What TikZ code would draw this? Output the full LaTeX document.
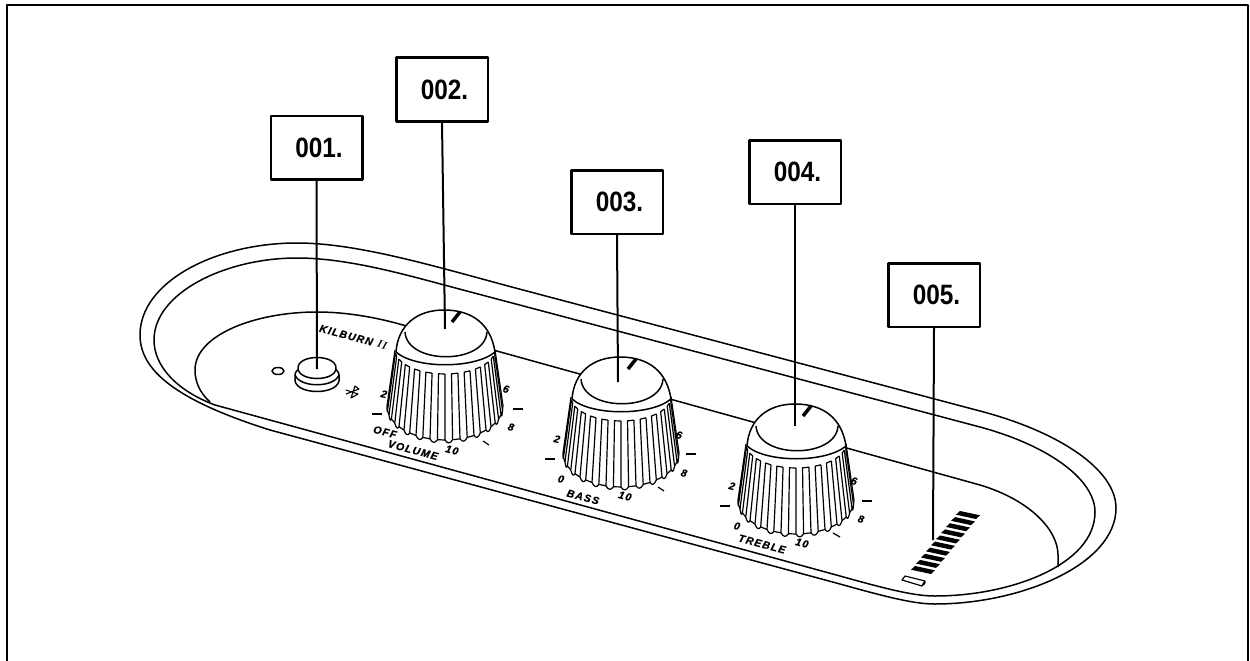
\documentclass[tikz,border=0pt]{standalone}
\usepackage{fontspec}
\usetikzlibrary{calc}
\newfontfamily\tagfont[FakeStretch=0.87]{Liberation Sans}
\newfontfamily\dialfont[LetterSpace=12,FakeBold=1]{Liberation Sans}

\begin{document}
\begin{tikzpicture}[x=1pt,y=-1pt,line join=round,
    tag/.style={draw,line width=2.5pt,fill=white,minimum width=91.5pt,minimum height=63.5pt,inner sep=0pt,font=\tagfont\bfseries\fontsize{28}{28}\selectfont,execute at begin node=\hspace*{5pt}},
    leader/.style={line width=2pt},
    body/.style={line width=1.5pt},
    rib/.style={line width=1.2pt},
    dial/.style={rotate=-15,inner sep=0pt,font=\dialfont\bfseries\itshape\fontsize{10.5}{10.5}\selectfont}]
    \useasboundingbox (0,0) rectangle (1250,661);
    \draw[line width=2pt] (6.5,661) -- (6.5,5) -- (1248,5) -- (1248,661);

    % tray
    \draw[body] (140,335) .. controls (140,282) and (215,243) .. (297,243)
      .. controls (360,243) and (440,268) .. (523,290) -- (980,411)
      .. controls (1060,432) and (1116,470) .. (1116,508)
      .. controls (1116,565) and (1020,604) .. (935,604)
      .. controls (915,604) and (890,598) .. (840,584) -- (270,430)
      .. controls (175,400) and (140,370) .. (140,335) -- cycle;
    \draw[body] (154,340) .. controls (154,293) and (225,258) .. (297,258)
      .. controls (350,258) and (410,276) .. (463,290) -- (980,427)
      .. controls (1050,446) and (1095,480) .. (1095,512)
      .. controls (1095,565) and (1010,596) .. (935,596)
      .. controls (915,596) and (890,590) .. (840,576) -- (215,405)
      .. controls (175,390) and (154,365) .. (154,340) -- cycle;
    \draw[body] (210,402) .. controls (200,393) and (195,382) .. (195,370)
      .. controls (195,335) and (255,312) .. (317,312)
      .. controls (345,312) and (375,317) .. (403,325) -- (980,485)
      .. controls (1030,500) and (1058,530) .. (1058,555) -- (1058,567);

    % button
    \draw[body] (278,371) ellipse (6 and 3.5);
    \draw[body,fill=white] (295,375) -- (295,381) .. controls (298,395) and (336,395) .. (339,381) -- (339,375)
      .. controls (339,362) and (295,362) .. (295,375) -- cycle;
    \draw[body] (295,375) .. controls (300,388) and (334,388) .. (339,375);
    \draw[body,fill=white] (298,368) .. controls (298,354) and (336,354) .. (336,368)
      .. controls (336,382) and (298,382) .. (298,368) -- cycle;
    \draw[line width=1.1pt] (346,390) -- (358,394) -- (351,398) -- (355,386) -- (359,389) -- (346,394);
    \coordinate (p1) at (317,369);

    % knobs
    \foreach \dx/\dy in {0/0,176/47,351/94} {
      \begin{scope}[shift={(445+\dx,350+\dy)}]
        \fill[white] plot[domain=-90:90,samples=31] ({58*sin(\x)},{56+34*cos(\x)}) -- (50,0) -- (-50,0) -- cycle;
        \foreach \t in {-90,-75,...,75} {
          \draw[rib] ({50*sin(\t)},{24*cos(\t)}) -- ({58*sin(\t)},{56+34*cos(\t)})
            .. controls ({58*sin(\t+2.5)},{60+34*cos(\t+2.5)}) and ({58*sin(\t+5)},{60+34*cos(\t+5)}) .. ({58*sin(\t+7.5)},{56+34*cos(\t+7.5)})
            -- ({50*sin(\t+7.5)},{24*cos(\t+7.5)}) -- ({50*sin(\t+15)},{24*cos(\t+15)});
          \draw[rib] ({58*sin(\t+7.5)},{56+34*cos(\t+7.5)}) -- ({58*sin(\t+15)},{56+34*cos(\t+15)});
        }
        \draw[rib] (50,0) -- (58,56);
        \draw[body,fill=white] (-49,2) .. controls (-47,-25) and (-28,-40) .. (-1,-40)
          .. controls (28,-40) and (46,-25) .. (50,2) .. controls (30,19) and (-30,19) .. (-49,2) -- cycle;
        \draw[body] (-40,-18) .. controls (-38,15) and (40,15) .. (42,-18);
        \draw[line width=3.5pt] (7,-28) -- (15,-38);
      \end{scope}
    }
    \coordinate (p2) at (445,329);
    \coordinate (p3) at (618,382);
    \coordinate (p4) at (795,426);

    % marks round the knobs
    \draw[line width=2pt] (372,414) -- (382,414);
    \draw[line width=2pt] (513,409) -- (523,409);
    \draw[line width=1.2pt] (483,441) -- (489,445);
    \draw[line width=2pt] (545,459) -- (555,459);
    \draw[line width=2pt] (686,454) -- (696,454);
    \draw[line width=1.2pt] (658,487) -- (664,491);
    \draw[line width=2pt] (720,506) -- (730,506);
    \draw[line width=2pt] (862,501) -- (872,501);
    \draw[line width=1.2pt] (833,533) -- (840,537);

    \node[dial] (brand) at (353,337) {KILBURN {\rmfamily II}};
    \node[dial] (v2) at (384,394) {2};
    \node[dial] (v6) at (506,389) {6};
    \node[dial] (v8) at (511,427) {8};
    \node[dial] (v10) at (452,450) {10};
    \node[dial] (voff) at (385,432) {OFF};
    \node[dial] (vname) at (413,450) {VOLUME};
    \node[dial] (b2) at (557,439) {2};
    \node[dial] (b6) at (679,435) {6};
    \node[dial] (b8) at (684,473) {8};
    \node[dial] (b0) at (561,479) {0};
    \node[dial] (b10) at (625,496) {10};
    \node[dial] (bname) at (583,497) {BASS};
    \node[dial] (t2) at (732,486) {2};
    \node[dial] (t6) at (854,481) {6};
    \node[dial] (t8) at (861,519) {8};
    \node[dial] (t0) at (737,526) {0};
    \node[dial] (t10) at (802,543) {10};
    \node[dial] (tname) at (762,544) {TREBLE};

    % battery
    \foreach \i in {0,...,9} {
      \fill[shift={({968-\i*5},{515+\i*55/9})}] (-8,-4) -- (12,0.3) -- (8,4) -- (-12,-0.3) -- cycle;
    }
    \draw[line width=1.2pt] (905,576) -- (925,581) -- (922,586) -- (902,580) -- cycle;
    \draw[line width=2pt] (925,582) -- (923,585);
    \coordinate (p5) at (933,540);

    % tags
    \node[tag] (tag1) at (316.5,147.5) {001.};
    \node[tag] (tag2) at (442,89.5) {002.};
    \node[tag] (tag3) at (617,202) {003.};
    \node[tag] (tag4) at (795,172) {004.};
    \node[tag] (tag5) at (934,295) {005.};
    \draw[leader] (tag1.south) -- (p1);
    \draw[leader] (tag2.south) -- (p2);
    \draw[leader] (tag3.south) -- (p3);
    \draw[leader] (tag4.south) -- (p4);
    \draw[leader] (tag5.south) -- (p5);
\end{tikzpicture}
\end{document}
